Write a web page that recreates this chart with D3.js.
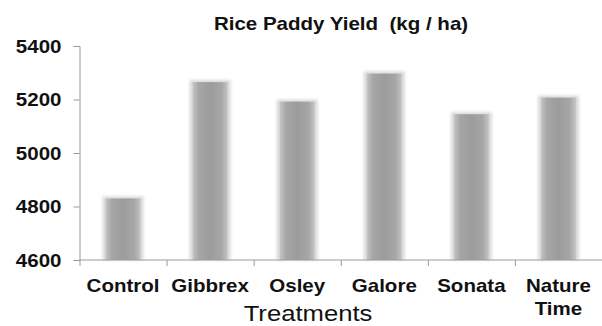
<!DOCTYPE html>
<html>
<head>
<meta charset="utf-8">
<script src="https://cdn.jsdelivr.net/npm/d3@7"></script>
<style>
  body { margin: 0; background: #fff; }
  text { font-family: Arial, "Liberation Sans", sans-serif; fill: #111; }
</style>
</head>
<body>
<svg id="chart" width="602" height="326"></svg>
<script>
// data
const treatments = ['Control', 'Gibbrex', 'Osley', 'Galore', 'Sonata', 'Nature Time'];
const yields = [4830, 5265, 5192, 5297, 5145, 5207];
const yTicks = [4600, 4800, 5000, 5200, 5400];

const svg = d3.select('#chart');
const margin = { left: 79.5, right: 0, top: 46, bottom: 66 };
const W = 602, H = 326;
const stretch = 1.14; // the original text is a bit wide

const x = d3.scaleBand().domain(treatments).range([margin.left, W - margin.right]).paddingInner(0.6).paddingOuter(0.3);
const xTicks = d3.scaleBand().domain(treatments).range([margin.left, W - margin.right]);
const y = d3.scaleLinear().domain([4600, 5400]).range([H - margin.bottom, margin.top]);

// places a text at (px, py) widened horizontally
function wide(sel, px, py) {
  return sel.attr('x', 0).attr('y', 0).attr('transform', `translate(${px},${py}) scale(${stretch},1)`);
}

// soft gradient for the bars
const defs = svg.append('defs');
const grad = defs.append('linearGradient').attr('id', 'barGrad').attr('x1', 0).attr('x2', 1).attr('y1', 0).attr('y2', 0);
grad.append('stop').attr('offset', '0%').attr('stop-color', '#c4c4c4');
grad.append('stop').attr('offset', '18%').attr('stop-color', '#a6a6a6');
grad.append('stop').attr('offset', '50%').attr('stop-color', '#9c9c9c');
grad.append('stop').attr('offset', '82%').attr('stop-color', '#a6a6a6');
grad.append('stop').attr('offset', '100%').attr('stop-color', '#c4c4c4');

const blur = defs.append('filter').attr('id', 'soft').attr('x', '-30%').attr('width', '160%').attr('y', '-10%').attr('height', '120%');
blur.append('feGaussianBlur').attr('stdDeviation', 1.6);

// title
svg.append('text')
  .attr('text-anchor', 'middle')
  .attr('font-size', 18).attr('font-weight', 700)
  .attr('xml:space', 'preserve')
  .text('Rice Paddy Yield  (kg / ha)')
  .call(wide, 341, 30);

// bars (soft halo then body)
svg.append('g').selectAll('rect.halo')
  .data(yields)
  .join('rect')
  .attr('class', 'halo')
  .attr('x', (d, i) => x(treatments[i]) - 3)
  .attr('width', x.bandwidth() + 6)
  .attr('y', (d) => y(d) - 2)
  .attr('height', (d) => y(4600) - y(d) + 2)
  .attr('fill', '#d8d8d8')
  .attr('filter', 'url(#soft)');

svg.append('g').selectAll('rect.bar')
  .data(yields)
  .join('rect')
  .attr('class', 'bar')
  .attr('x', (d, i) => x(treatments[i]))
  .attr('width', x.bandwidth())
  .attr('y', (d) => y(d))
  .attr('height', (d) => y(4600) - y(d))
  .attr('fill', 'url(#barGrad)');

// y axis
const yAxis = svg.append('g')
  .attr('transform', `translate(${margin.left},0)`)
  .call(d3.axisLeft(y).tickValues(yTicks).tickSize(6).tickFormat(d3.format('d')));
yAxis.select('.domain').attr('stroke', '#9a9a9a');
yAxis.selectAll('.tick line').attr('stroke', '#9a9a9a');
yAxis.selectAll('.tick text')
  .attr('font-size', 18).attr('font-weight', 700).attr('fill', '#111')
  .attr('font-family', 'Arial, "Liberation Sans", sans-serif')
  .attr('text-anchor', 'end')
  .attr('dy', '0.34em')
  .call(wide, -18, 0);

// x axis line and band ticks
const xAxisG = svg.append('g').attr('transform', `translate(0,${y(4600)})`);
xAxisG.append('line')
  .attr('x1', margin.left).attr('x2', W)
  .attr('stroke', '#9a9a9a');
xAxisG.selectAll('line.tick')
  .data(treatments)
  .join('line')
  .attr('class', 'tick')
  .attr('x1', (d) => xTicks(d) + 0.5).attr('x2', (d) => xTicks(d) + 0.5)
  .attr('y1', 0).attr('y2', 6)
  .attr('stroke', '#9a9a9a');

// category labels (long one wrapped on its space)
xAxisG.selectAll('text.cat')
  .data(treatments)
  .join('text')
  .attr('class', 'cat')
  .attr('text-anchor', 'middle')
  .attr('font-size', 18).attr('font-weight', 700)
  .each(function (d) {
    const parts = d === 'Nature Time' ? d.split(' ') : [d];
    const cx = x(d) + x.bandwidth() / 2;
    d3.select(this).call(wide, cx, 32)
      .selectAll('tspan')
      .data(parts)
      .join('tspan')
      .attr('x', 0)
      .attr('y', (p, i) => i * 23)
      .text((p) => p);
  });

// axis title
svg.append('text')
  .attr('text-anchor', 'middle')
  .attr('font-size', 22.5)
  .text('Treatments')
  .call(wide, 308, 321);
</script>
</body>
</html>
